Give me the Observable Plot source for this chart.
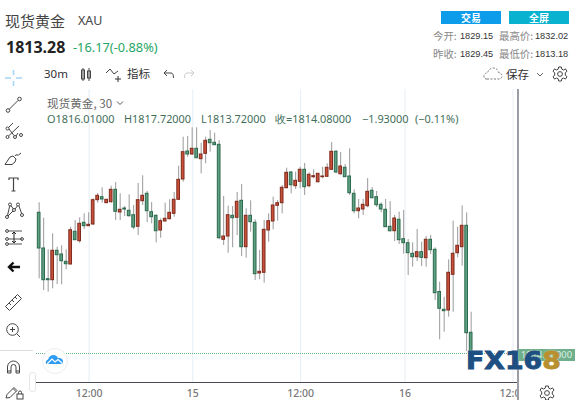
<!DOCTYPE html>
<html><head><meta charset="utf-8">
<script src="https://cdn.jsdelivr.net/npm/d3@7"></script>
<script src="https://cdn.jsdelivr.net/npm/@observablehq/plot@0.6"></script>
<style>
html,body{margin:0;padding:0;background:#fff}
#page{position:relative;width:577px;height:400px;overflow:hidden;background:#fff;font-family:"Noto Sans CJK SC","Noto Sans",sans-serif}
#page>div{position:absolute;white-space:nowrap;line-height:1}
#page>svg.ic{position:absolute;overflow:visible}
#chart{left:0;top:89px}
#chart svg{display:block;background:transparent}
</style></head><body>
<div id="page"></div>
<script>
const opens=[1828.15,1824.58,1821.51,1821.41,1824.35,1823.98,1823.25,1822.98,1826.25,1825.31,1827.15,1826.81,1826.98,1829.41,1829.71,1829.11,1829.21,1830.45,1828.18,1828.58,1828.35,1827.91,1826.75,1829.31,1830.05,1828.21,1827.85,1826.38,1827.28,1827.51,1828.05,1829.45,1831.48,1834.28,1833.98,1834.55,1833.51,1834.05,1835.45,1835.15,1834.95,1825.45,1825.78,1827.85,1827.65,1829.35,1824.71,1827.85,1827.15,1822.08,1822.15,1826.38,1827.28,1828.85,1829.11,1830.61,1832.18,1830.81,1831.25,1832.45,1830.81,1831.71,1831.21,1831.71,1831.75,1832.45,1834.25,1832.01,1832.65,1831.78,1830.05,1828.31,1828.48,1828.81,1830.35,1829.71,1828.95,1828.45,1826.75,1826.31,1827.45,1825.51,1825.11,1824.05,1823.71,1824.21,1823.61,1825.45,1824.45,1820.23,1818.45,1818.38,1821.95,1824.11,1824.71,1826.85,1816.15];
const highs=[1829.15,1827.61,1824.45,1826.05,1824.71,1824.85,1824.45,1826.71,1827.38,1827.65,1828.05,1828.15,1829.55,1830.08,1830.65,1829.48,1830.81,1831.18,1830.05,1828.78,1829.95,1828.88,1831.08,1831.85,1830.28,1829.18,1827.95,1827.55,1829.11,1829.45,1830.18,1832.81,1835.71,1835.78,1836.65,1836.65,1835.11,1835.71,1836.38,1836.11,1835.38,1829.78,1828.81,1828.78,1830.18,1830.98,1828.55,1829.35,1827.45,1824.38,1827.38,1828.05,1829.71,1829.38,1830.88,1832.61,1832.28,1832.21,1832.71,1833.08,1832.15,1832.45,1832.05,1832.71,1833.05,1835.18,1834.38,1834.18,1832.98,1834.55,1830.45,1829.48,1829.48,1831.58,1830.68,1830.28,1829.15,1829.48,1829.28,1827.88,1828.21,1828.38,1825.48,1825.15,1826.48,1825.21,1825.78,1825.88,1824.65,1821.21,1819.71,1823.45,1827.31,1826.71,1828.85,1828.15,1818.21];
const lows=[1821.55,1820.38,1820.21,1820.55,1820.98,1820.95,1822.45,1822.95,1825.38,1825.11,1826.48,1826.78,1826.88,1829.11,1829.11,1829.08,1829.11,1827.38,1827.38,1827.78,1827.71,1826.45,1825.88,1828.88,1827.18,1827.05,1825.15,1825.61,1827.25,1827.45,1827.71,1829.38,1831.21,1833.71,1833.88,1833.55,1832.05,1833.05,1834.21,1834.91,1825.45,1824.88,1824.11,1824.65,1825.88,1823.78,1823.61,1826.21,1821.38,1821.45,1821.11,1825.21,1826.45,1827.31,1828.05,1830.55,1830.05,1830.48,1830.55,1829.88,1830.65,1831.55,1831.11,1831.55,1831.71,1832.38,1832.05,1831.88,1831.71,1829.88,1828.05,1827.55,1827.88,1828.65,1829.55,1828.68,1828.15,1826.71,1826.21,1825.28,1824.98,1824.01,1821.88,1822.71,1823.28,1822.78,1822.71,1823.98,1819.38,1815.45,1816.21,1817.71,1818.21,1823.65,1822.81,1814.28,1813.18];
const closes=[1824.58,1821.41,1821.41,1824.35,1823.91,1823.31,1823.01,1826.41,1825.41,1827.05,1826.81,1826.95,1829.41,1829.85,1829.48,1829.45,1830.45,1828.25,1828.45,1828.48,1827.81,1826.68,1829.41,1829.85,1828.31,1827.71,1826.31,1827.31,1827.55,1828.15,1829.45,1831.45,1834.21,1833.98,1834.55,1833.61,1833.98,1835.35,1835.11,1834.91,1825.61,1825.78,1827.91,1827.61,1829.25,1824.71,1827.85,1827.21,1822.01,1822.25,1826.45,1827.31,1828.88,1829.11,1830.65,1832.15,1830.91,1831.35,1832.45,1830.71,1831.95,1831.81,1832.05,1831.78,1832.65,1834.25,1832.18,1832.78,1831.71,1830.11,1828.31,1828.58,1828.95,1830.25,1829.61,1828.91,1828.48,1826.71,1826.31,1827.58,1825.41,1825.11,1824.11,1823.71,1824.21,1823.65,1825.45,1824.41,1820.11,1818.55,1818.31,1822.15,1824.05,1824.85,1826.85,1816.11,1814.08];
const tickSlots=[11.1,34.15,58.1,81.3,105.3];
const tickLabels=["12:00","15","12:00","16","12:00"];
const lastPrice=1814.08;

const candles=opens.map((o,i)=>({i,o,h:highs[i],l:lows[i],c:closes[i]}));
const up=d=>d.c>=d.o;
const page=document.getElementById("page");

const chart=Plot.plot({
  width:577,height:311,marginLeft:36,marginRight:59,marginTop:0,marginBottom:18,
  style:{background:"transparent"},
  x:{domain:[-0.593,106.52],axis:null},
  y:{domain:[1811.18,1840.48],axis:null},
  marks:[
    Plot.ruleX(tickSlots,{stroke:"#e6eef5",strokeWidth:1}),
    Plot.ruleY([lastPrice],{stroke:"#5fb986",strokeWidth:1,strokeDasharray:"1,1"}),
    Plot.ruleX(candles,{x:"i",y1:"l",y2:"h",stroke:"#999",strokeWidth:1}),
    Plot.rect(candles,{
      x1:d=>d.i-0.3,x2:d=>d.i+0.3,
      y1:d=>Math.min(d.o,d.c),y2:d=>Math.max(d.o,d.c),
      fill:d=>up(d)?"#c8503b":"#5f9f82",
      stroke:d=>up(d)?"#7e2a1c":"#2b6a4d",strokeWidth:1
    }),
    Plot.ruleY([1811.18],{stroke:"#4a4a55",strokeWidth:1}),
    Plot.axisX(tickSlots,{
      tickSize:0,tickPadding:7,fontSize:10.5,fontWeight:500,
      fontFamily:"'Noto Sans',sans-serif",color:"#777",
      tickFormat:(d,k)=>tickLabels[k]
    })
  ]
});
const holder=document.createElement("div");holder.id="chart";holder.appendChild(chart);page.appendChild(holder);

function txt(s,x,y,size,color,extra){
  const d=document.createElement("div");d.textContent=s;
  d.style.cssText=`left:${x}px;top:${y}px;font-size:${size}px;color:${color};${extra||""}`;
  page.appendChild(d);return d;
}
function box(x,y,w,h,css){
  const d=document.createElement("div");
  d.style.cssText=`left:${x}px;top:${y}px;width:${w}px;height:${h}px;${css}`;
  page.appendChild(d);return d;
}
function icon(x,y,w,h,inner){
  const s=document.createElementNS("http://www.w3.org/2000/svg","svg");
  s.setAttribute("class","ic");s.setAttribute("width",w);s.setAttribute("height",h);
  s.setAttribute("viewBox",`0 0 ${w} ${h}`);
  s.style.left=x+"px";s.style.top=y+"px";
  s.innerHTML=`<g fill="none" stroke="#444" stroke-width="1">${inner}</g>`;
  page.appendChild(s);
}
/* right panel covers the axis clip */
box(518,89,59,311,"background:#fff");
box(517.2,89,1.5,311,"background:#9c9ca6");

/* header */
txt("现货黄金",5,13,15,"#444");
txt("XAU",78,14.5,12.5,"#444","font-family:'Noto Sans'");
txt("1813.28",6,39,16,"#222","font-weight:700;font-family:'Noto Sans'");
txt("-16.17(-0.88%)",73,41,12.8,"#27a766","font-family:'Noto Sans'");
txt("30m",44,68,11.5,"#333","font-family:'Noto Sans'");
txt("指标",127,68,11.5,"#333");

const btn=(s,x,c)=>{const d=box(x,11,60,13,`background:${c};color:#fff;font-size:10px;font-weight:700;text-align:center;line-height:13px`);d.textContent=s;};
btn("交易",441,"#0d9ce9");btn("全屏",509,"#09b2cf");

const gr="#888",dk="#333",nums="font-family:'Liberation Sans';";
txt("今开:",433,31,10.4,gr);txt("1829.15",460,32,9.2,dk,nums);
txt("最高价:",499,31,10.4,gr);txt("1832.02",535,32,9.2,dk,nums);
txt("昨收:",433,49,10.4,gr);txt("1829.45",460,50,9.2,dk,nums);
txt("最低价:",499,49,10.4,gr);txt("1813.18",535,50,9.2,dk,nums);
txt("保存",506,69,11.5,"#333");

/* legend in plot area */
txt("现货黄金, 30",47,98,11.6,"#666");
icon(116,100,8,6,'<path d="M1 1.5 L4 4.5 L7 1.5" stroke="#555"/>');
const g="#3f6e5a",nf="font-family:'Noto Sans';";
txt("O1816.01000",47,113.5,10.9,g,nf);
txt("H1817.72000",124,113.5,10.9,g,nf);
txt("L1813.72000",201,113.5,10.9,g,nf);
txt("收=1814.08000",275,113.5,10.9,g,nf);
txt("−1.93000",362,113.5,10.9,g,nf);
txt("(−0.11%)",415,113.5,10.9,g,nf);

/* top tool icons */
icon(80,67,12,15,'<rect x="1.5" y="3" width="3" height="9"/><rect x="7.5" y="4" width="3" height="7"/><path d="M3 1V14M9 1V14"/>');
icon(105,67,20,16,'<path d="M1 6 L5 2 L9 7 L13 4"/><path d="M13 9V15M10 12H16" stroke="#333"/>');
icon(162,68,13,12,'<path d="M5 2 L2 5 L5 8M2 5H9Q11.5 5 11.5 10"/>');
icon(183,68,13,12,'<path d="M8 2 L11 5 L8 8M11 5H4Q1.5 5 1.5 10" stroke="#ccc"/>');
icon(483,66,20,16,'<path d="M4 13Q0.5 13 1 9.5Q1.5 7 4.5 7Q6 2 10.5 2Q14.5 2.2 15.5 6.5Q19 7 19 10.5Q18.5 13 16 13Z" stroke="#777" stroke-dasharray="2,1.5"/>');
icon(536,72,8,6,'<path d="M1 1L4 4L7 1" stroke="#666"/>');
const gear='<circle cx="8" cy="8" r="2.4"/><path d="M6.6 1H9.4L9.8 3.2L11.6 4L13.5 2.9L15 5.3L13.3 6.7V9.3L15 10.7L13.5 13.1L11.6 12L9.8 12.8L9.4 15H6.6L6.2 12.8L4.4 12L2.5 13.1L1 10.7L2.7 9.3V6.7L1 5.3L2.5 2.9L4.4 4L6.2 3.2Z"/>';
icon(552,66,16,16,gear);
icon(539,385,16,16,gear);

/* left toolbar */
icon(4,69,20,18,'<path d="M9.5 1V6M9.5 12V17M1 9H7M12 9H18" stroke="#a5d5f7" stroke-width="1.6"/>');
icon(5,96,18,18,'<circle cx="3" cy="14.5" r="1.8"/><circle cx="14.5" cy="3" r="1.8"/><path d="M4.4 13.1L13.1 4.4"/>');
icon(5,122,19,18,'<circle cx="2.5" cy="6.5" r="1.5"/><circle cx="2.5" cy="15" r="1.5"/><circle cx="10" cy="15" r="1.5"/><circle cx="16" cy="13" r="1.5"/><path d="M3.5 5.5L8 1M4 7L9 13.5M3.5 14L14 4M11 14L13 11"/>');
icon(4,150,19,17,'<path d="M1 14.5L6 7L9 6L12 9L11 12L8 14.5Z"/><path d="M11 6Q12 4 13 5Q14 6 17 3"/>');
icon(8,177,11,15,'<path d="M1 3V1H10V3M5.5 1V14M3.5 14H7.5" stroke-width="1.2"/>');
icon(5,202,19,17,'<circle cx="2" cy="15" r="1.5"/><circle cx="5" cy="2.5" r="1.5"/><circle cx="9" cy="8" r="1.5"/><circle cx="13" cy="2.5" r="1.5"/><circle cx="17" cy="13" r="1.5"/><path d="M2.5 13.5L4.7 4M6 3.5L8.3 7M10 7L12.4 4M14 4L16.6 11.5M3 14L8 9"/>');
icon(5,228,19,18,'<path d="M3 3H17M3 11H17M3 16H17" stroke="#555"/><circle cx="2" cy="3" r="1.4"/><circle cx="2" cy="11" r="1.4"/><circle cx="2" cy="16" r="1.4"/><circle cx="17" cy="11" r="1.4"/><path d="M9 4V15M7 6L9 4L11 6M7 13L9 15L11 13" stroke="#222"/>');
icon(7,261,14,12,'<path d="M6.5 1.5L2 6L6.5 10.5M2 6H13" stroke="#111" stroke-width="2.4"/>');
icon(4,293,19,19,'<path d="M1.5 13.5L13.5 1.5L17.5 5.5L5.5 17.5Z M5 10L7 12M8 7L10 9M11 4L13 6"/>');
icon(5,322,16,16,'<circle cx="7.5" cy="7.5" r="5.8"/><path d="M7.5 5V10M5 7.5H10M12 12L15 15"/>');
box(0,349.5,33,1,"background:#ddd");
icon(6,360,15,15,'<path d="M1.5 13V7A6 6 0 0 1 13.5 7V13H10V7A2.5 2.5 0 0 0 5 7V13ZM1.5 11H5M10 11H13.5"/>');
icon(5,386,19,14,'<path d="M1 12L2 8.5L9 1.5L12 4.5L5 11.5Z M8 2.5L11 5.5"/><rect x="12" y="8" width="6" height="5"/><path d="M13.5 8V6.5A1.5 1.5 0 0 1 16.5 6.5V8"/>');
box(29,372,5,18,"background:#fff;border:1px solid #e6e6e6;border-radius:3px");

/* floating cloud badge */
box(42,348,24,24,"background:#fff;border:1px solid #eee;border-radius:50%");
icon(45,353,19,12,'<path d="M1 11Q0 8 3 6.5Q4.5 2 8.5 2Q11.5 2 13 5Q18 4.5 18 8.5Q18 11 15 11Z" fill="#2f9cf2" stroke="none"/><path d="M2 11L7 6L10 9L13 6.5L17 10" stroke="#fff" stroke-width="1.1"/>');

/* last price tag + watermark */
const tag=box(518,349,57,12,"background:#6fae8a;color:#d9eee2;font-size:9.5px;line-height:12px;text-align:center;font-family:'Noto Sans'");
tag.textContent="1814.08000";
const mark=txt("",465.5,349,24,"#1d4f82","font-family:'DejaVu Sans';font-weight:700;-webkit-text-stroke:0.9px currentColor;transform-origin:0 0;transform:scaleX(1.115);text-shadow:0 0 2px #fff");
mark.innerHTML='FX16<span style="color:#b8902f">8</span>';
</script>
</body></html>
